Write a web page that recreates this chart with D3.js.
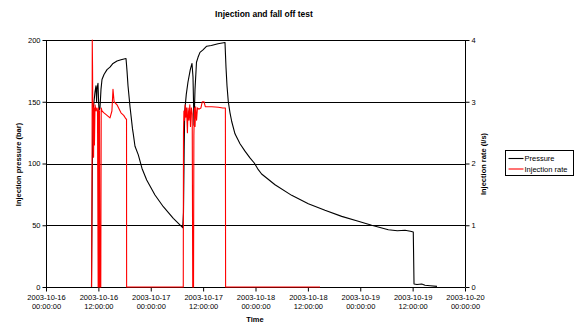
<!DOCTYPE html>
<html><head><meta charset="utf-8">
<script src="https://cdn.jsdelivr.net/npm/d3@7/dist/d3.min.js"></script>
<style>
body{margin:0;background:#fff;}
svg{display:block;font-family:"Liberation Sans",Arial,sans-serif;}
</style></head>
<body><svg id="c" width="576" height="323"></svg>
<script>
// hours since 2003-10-16 00:00:00
const pressureHours = [10.42,10.50,10.60,10.72,10.85,11.00,11.23,11.46,11.60,11.68,11.91,12.05,12.14,12.37,12.60,12.83,13.29,13.98,14.66,15.35,16.27,17.18,18.33,18.45,18.56,18.79,19.25,19.82,19.98,20.39,21.15,22.00,23.07,24.97,26.88,29.17,31.32,31.50,31.65,31.78,32.14,32.53,33.06,33.45,33.68,33.91,34.14,34.48,34.83,35.28,35.97,36.82,37.87,39.41,41.01,41.10,41.24,41.47,41.77,42.16,42.55,43.30,44.45,45.59,46.73,47.72,48.64,49.40,50.55,52.47,56.29,60.10,63.92,67.75,71.55,74.62,78.43,80.50,82.25,83.50,84.15,84.32,85.00,86.08,86.84,88.00,89.58];
const pressureBar = [0,40,90,125,145,150,158,163,150,160,165,150,143,145,160,168,172,176,178,181,183,184,185,180,175,163,146,128,124.4,114,107,96,86.6,74.5,65,55.6,48,60,110,142,156,166,176,181,170,131,160,182,186,190,192,195,195.5,197,198,190,178,163,150,141,134,124,116,110,104.5,100.4,95,91.5,88.3,82.8,74.2,67.5,62.1,57.2,53.2,50,46.4,45.5,45.9,45.2,44.5,2.4,2.0,2.4,1.4,1.0,0.5];
const rateHours = [10.45,10.50,10.55,10.60,10.66,10.72,10.80,10.90,11.00,11.10,11.23,11.46,11.68,11.80,11.95,12.05,12.14,12.25,12.37,12.55,12.65,12.83,13.29,13.98,14.66,15.10,15.35,15.60,16.27,17.18,17.80,18.33,18.45,18.47,31.45,31.50,31.60,31.75,31.90,32.05,32.20,32.40,32.55,32.75,32.95,33.10,33.30,33.50,33.62,33.80,33.88,34.00,34.15,34.30,34.50,34.70,35.00,35.50,35.80,36.20,36.50,38.00,39.50,40.50,41.10,41.15,62.78];
const rateLs = [0,0.9,2.0,4.0,3.6,2.9,3.0,2.1,2.9,2.3,2.95,2.85,2.9,2.85,0,2.9,0,2.85,0,0,2.9,2.85,2.82,2.78,2.74,2.85,3.2,3.0,2.95,2.82,2.78,2.72,2.72,0,0,2.5,2.85,2.7,2.95,2.75,2.9,2.5,2.9,2.7,2.95,2.6,2.9,2.8,0,0,2.45,2.9,2.6,2.92,2.7,2.9,2.88,2.9,3.0,3.0,2.92,2.92,2.91,2.9,2.9,0,0];
const leftTicks = [0,50,100,150,200];
const rightTicks = [0,1,2,3,4];
const xTickHours = [0,12,24,36,48,60,72,84,96];
const seriesNames = ["Pressure","Injection rate"];
const seriesColors = ["#000000","#ff0000"];

const t0 = Date.UTC(2003,9,16,0,0,0);
const toDate = h => new Date(t0 + h*3600000);

const svg = d3.select("#c");
const L=46, R=465, T=40, B=287;
const x = d3.scaleUtc().domain([toDate(0),toDate(96)]).range([L,R]);
const yL = d3.scaleLinear().domain([0,200]).range([B,T]);
const yR = d3.scaleLinear().domain([0,4]).range([B,T]);

// gridlines
svg.append("g").selectAll("line").data(leftTicks.slice(1)).join("line")
  .attr("x1",L).attr("x2",R).attr("y1",d=>Math.round(yL(d))+0.5).attr("y2",d=>Math.round(yL(d))+0.5)
  .attr("stroke","#000").attr("stroke-width",1);

const fs = "7.5px";
// left axis
const gl = svg.append("g").attr("transform",`translate(${L+0.5},0)`)
  .call(d3.axisLeft(yL).tickValues(leftTicks).tickSize(4).tickPadding(2).tickFormat(d3.format("d")));
// right axis
const gr = svg.append("g").attr("transform",`translate(${R+0.5},0)`)
  .call(d3.axisRight(yR).tickValues(rightTicks).tickSize(4).tickPadding(2).tickFormat(d3.format("d")));
// bottom axis
const fmtD = d3.utcFormat("%Y-%m-%d"), fmtT = d3.utcFormat("%H:%M:%S");
const gb = svg.append("g").attr("transform",`translate(0,${B+0.5})`)
  .call(d3.axisBottom(x).tickValues(xTickHours.map(toDate)).tickSize(4).tickFormat(""));
gb.selectAll(".tick").append("text").attr("fill","#000").attr("text-anchor","middle")
  .attr("y",12).each(function(d){
    const t=d3.select(this);
    t.append("tspan").attr("x",0).text(fmtD(d));
    t.append("tspan").attr("x",0).attr("dy",9.3).text(fmtT(d));
  });
[gl,gr,gb].forEach(g=>{
  g.selectAll("path").attr("stroke","#000").attr("stroke-width",1);
  g.selectAll("line").attr("stroke","#000");
  g.selectAll("text").attr("font-size",fs).attr("fill","#000").attr("font-family","Liberation Sans, Arial, sans-serif");
});
gl.select(".domain").attr("d",`M0,${T}V${B}`);
gr.select(".domain").attr("d",`M0,${T}V${B}`);
gb.select(".domain").attr("d",`M${L},0H${R}`);

// series
const line = (xs,ys,ysc)=>d3.line().x((d,i)=>x(toDate(xs[i]))).y((d,i)=>ysc(ys[i]))(xs);
svg.append("path").attr("d",line(pressureHours,pressureBar,yL))
  .attr("fill","none").attr("stroke",seriesColors[0]).attr("stroke-width",1.1).attr("stroke-linejoin","round");
svg.append("path").attr("d",line(rateHours,rateLs,yR))
  .attr("fill","none").attr("stroke",seriesColors[1]).attr("stroke-width",1.1).attr("stroke-linejoin","round");

// titles
svg.append("text").attr("x",264).attr("y",17).attr("text-anchor","middle")
  .attr("font-size","8.5px").attr("font-weight","bold").text("Injection and fall off test");
svg.append("text").attr("x",255).attr("y",321.5).attr("text-anchor","middle")
  .attr("font-size",fs).attr("font-weight","bold").text("Time");
svg.append("text").attr("transform","translate(20.5,164.5) rotate(-90)").attr("text-anchor","middle")
  .attr("font-size",fs).attr("font-weight","bold").text("Injection pressure (bar)");
svg.append("text").attr("transform","translate(486,164) rotate(-90)").attr("text-anchor","middle")
  .attr("font-size",fs).attr("font-weight","bold").text("Injection rate (l/s)");

// legend
const lg = svg.append("g").attr("transform","translate(505.5,150.5)");
lg.append("rect").attr("width",68).attr("height",25).attr("fill","#fff").attr("stroke","#000").attr("stroke-width",1);
seriesNames.forEach((n,i)=>{
  lg.append("line").attr("x1",3).attr("x2",18).attr("y1",8+i*10.5).attr("y2",8+i*10.5)
    .attr("stroke",seriesColors[i]).attr("stroke-width",1.1);
  lg.append("text").attr("x",19).attr("y",10.7+i*10.5).attr("font-size",fs).text(n);
});
</script></body></html>
